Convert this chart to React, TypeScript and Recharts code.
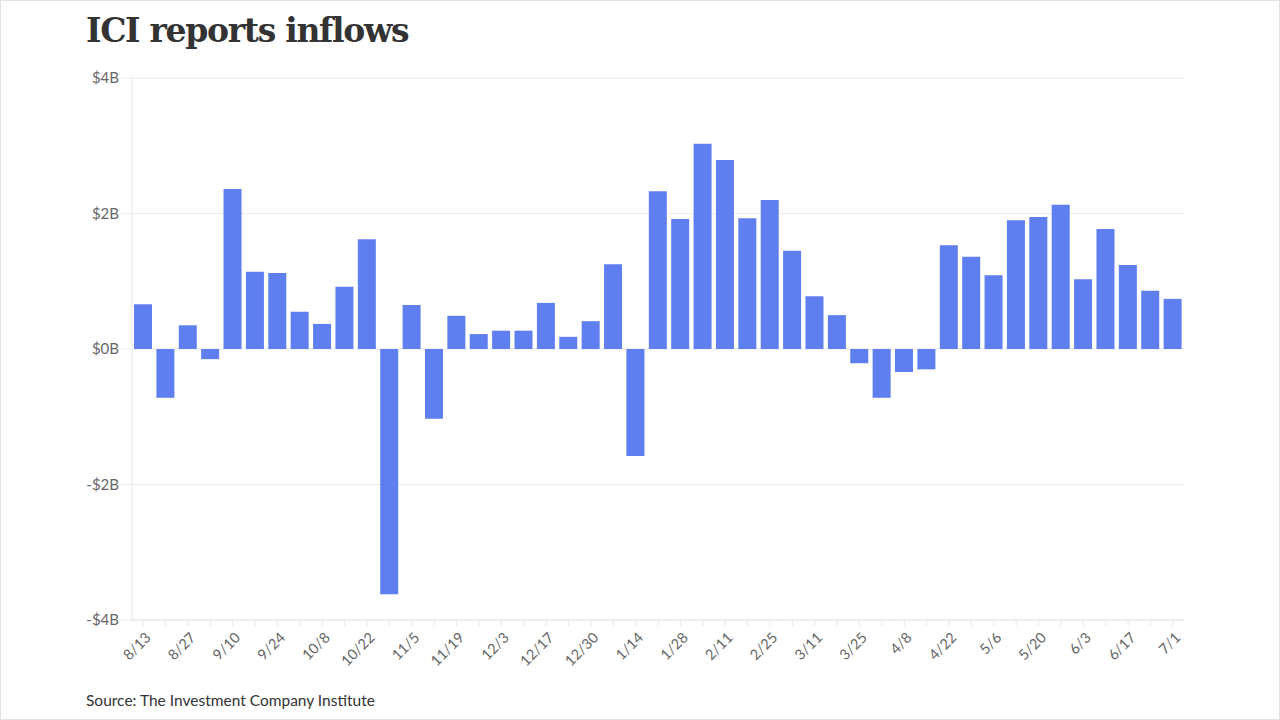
import React from "react"
import { BarChart, Bar, XAxis, YAxis, CartesianGrid } from "recharts"

// weekly flows, billions of dollars
const weeks = [
  "8/13", "8/20", "8/27", "9/3", "9/10", "9/17", "9/24", "10/1", "10/8", "10/15",
  "10/22", "10/29", "11/5", "11/12", "11/19", "11/26", "12/3", "12/10", "12/17", "12/24",
  "12/30", "1/7", "1/14", "1/21", "1/28", "2/4", "2/11", "2/18", "2/25", "3/4",
  "3/11", "3/18", "3/25", "4/1", "4/8", "4/15", "4/22", "4/29", "5/6", "5/13",
  "5/20", "5/27", "6/3", "6/10", "6/17", "6/24", "7/1",
]
const flows = [
  0.66, -0.72, 0.35, -0.15, 2.36, 1.14, 1.12, 0.55, 0.37, 0.92,
  1.62, -3.62, 0.65, -1.03, 0.49, 0.22, 0.27, 0.27, 0.68, 0.18,
  0.41, 1.25, -1.58, 2.33, 1.92, 3.03, 2.79, 1.93, 2.2, 1.45,
  0.78, 0.5, -0.21, -0.72, -0.34, -0.3, 1.53, 1.36, 1.09, 1.9,
  1.95, 2.13, 1.03, 1.77, 1.24, 0.86, 0.74,
]
const yTicks = [-4, -2, 0, 2, 4]

const data = weeks.map((week, i) => ({ week, flow: flows[i] }))

const formatBillions = (v: number) => (v < 0 ? `-$${Math.abs(v)}B` : `$${v}B`)

function WeekTick(props: any) {
  const { x, y, payload, index } = props
  if (index % 2 !== 0) return null
  return (
    <text
      transform={`translate(${x + 6},${y + 8}) rotate(-45)`}
      textAnchor="end"
      dominantBaseline="middle"
      fill="#666"
      fontSize={14.5}
      fontFamily="Lato"
    >
      {payload.value}
    </text>
  )
}

export default function App() {
  return (
    <div
      style={{
        position: "absolute",
        left: 0,
        top: 0,
        width: 1280,
        height: 720,
        background: "#fff",
        boxSizing: "border-box",
        border: "1px solid #e2e2e2",
        overflow: "hidden",
      }}
    >
      <div
        style={{
          position: "absolute",
          left: 85,
          top: 10,
          fontFamily: "DejaVu Serif",
          fontWeight: 700,
          fontSize: 33,
          color: "#333",
          letterSpacing: -1.3,
        }}
      >
        ICI reports inflows
      </div>
      <div style={{ position: "absolute", left: 0, top: 0 }}>
        <BarChart
          width={1280}
          height={720}
          data={data}
          margin={{ top: 77, right: 97, left: 0, bottom: 41 }}
          barSize={18}
        >
          <CartesianGrid vertical={false} stroke="#ececec" />
          <XAxis
            dataKey="week"
            interval={0}
            height={60}
            tick={<WeekTick />}
            tickSize={6}
            tickLine={{ stroke: "#e6e6e6" }}
            axisLine={{ stroke: "#e6e6e6" }}
          />
          <YAxis
            width={131}
            domain={[-4, 4]}
            ticks={yTicks}
            tickFormatter={formatBillions}
            tick={{ fill: "#666", fontSize: 15, fontFamily: "Lato" }}
            tickSize={11}
            tickLine={{ stroke: "#ececec" }}
            axisLine={{ stroke: "#e6e6e6" }}
          />
          <Bar dataKey="flow" fill="#5f7ef0" isAnimationActive={false} />
        </BarChart>
      </div>
      <div
        style={{
          position: "absolute",
          left: 85,
          top: 690,
          fontFamily: "Lato",
          fontSize: 15.5,
          color: "#333",
        }}
      >
        Source: The Investment Company Institute
      </div>
    </div>
  )
}
